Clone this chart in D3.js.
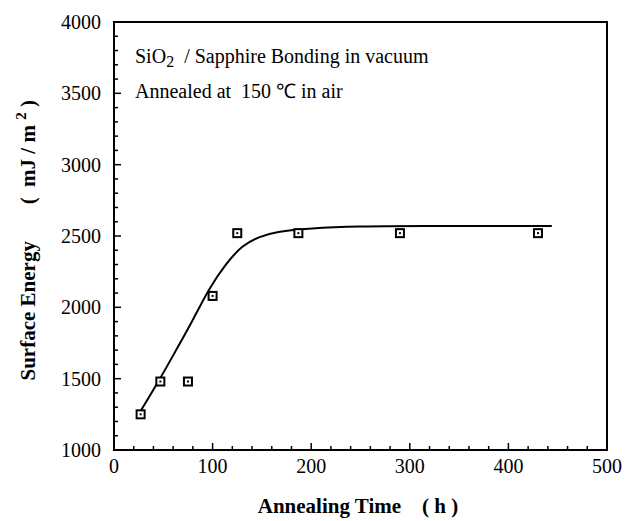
<!DOCTYPE html>
<html>
<meta charset="utf-8">
<script src="https://d3js.org/d3.v7.min.js"></script>
<style>
  body { margin: 0; background: #fff; }
  text { font-family: "Liberation Serif", "Times New Roman", serif; fill: #000; white-space: pre; }
</style>
<body>
<div id="my_dataviz"></div>
<script>

// measured points (annealing time in h, surface energy in mJ/m2)
var hours  = [27, 47, 75, 100, 125, 187, 290, 430];
var energy = [1250, 1480, 1480, 2080, 2520, 2520, 2520, 2520];

// fitted curve
var fitHours  = [25, 46, 63, 80, 97, 114, 130, 147, 164, 198, 250, 300, 444];
var fitEnergy = [1250, 1490, 1700, 1910, 2140, 2310, 2435, 2495, 2530, 2555, 2568, 2570, 2570];

var xTicks = [0, 100, 200, 300, 400, 500];
var yTicks = [1000, 1500, 2000, 2500, 3000, 3500, 4000];

// set the dimensions and margins of the graph
var margin = {top: 22, right: 30, bottom: 71, left: 114},
    width = 640 - margin.left - margin.right,
    height = 521 - margin.top - margin.bottom;

var svg = d3.select("#my_dataviz")
  .append("svg")
    .attr("width", 640)
    .attr("height", 521)
  .append("g")
    .attr("transform", "translate(" + margin.left + "," + margin.top + ")");

var x = d3.scaleLinear().domain([0, 500]).range([0, width - 3]);
var y = d3.scaleLinear().domain([1000, 4000]).range([height, 0]);

// minor ticks (inward)
svg.append("g")
  .selectAll("line")
  .data(d3.range(20, 500, 20))
  .enter().append("line")
    .attr("x1", function(d) { return x(d); })
    .attr("x2", function(d) { return x(d); })
    .attr("y1", height)
    .attr("y2", function(d) { return d % 100 === 0 ? height - 7 : height - 4; })
    .attr("stroke", "#000").attr("stroke-width", 1.5);

svg.append("g")
  .selectAll("line")
  .data(d3.range(1100, 4000, 100))
  .enter().append("line")
    .attr("y1", function(d) { return y(d); })
    .attr("y2", function(d) { return y(d); })
    .attr("x1", 0)
    .attr("x2", function(d) { return d % 500 === 0 ? 7 : 4; })
    .attr("stroke", "#000").attr("stroke-width", 1.5);

// frame
svg.append("rect")
  .attr("x", 0).attr("y", 0)
  .attr("width", x(500)).attr("height", height)
  .attr("fill", "none")
  .attr("stroke", "#000")
  .attr("stroke-width", 2);

// tick labels
svg.append("g")
  .selectAll("text")
  .data(xTicks)
  .enter().append("text")
    .attr("x", function(d) { return x(d); })
    .attr("y", height + 23)
    .attr("text-anchor", "middle")
    .style("font-size", "20px")
    .text(function(d) { return d; });

svg.append("g")
  .selectAll("text")
  .data(yTicks)
  .enter().append("text")
    .attr("x", -13)
    .attr("y", function(d) { return y(d) + 7; })
    .attr("text-anchor", "end")
    .style("font-size", "20px")
    .text(function(d) { return d; });

// fitted curve
var pts = fitHours.map(function(h, i) { return [h, fitEnergy[i]]; });
svg.append("path")
  .datum(pts)
  .attr("fill", "none")
  .attr("stroke", "#000")
  .attr("stroke-width", 2)
  .attr("d", d3.line()
    .x(function(d) { return x(d[0]); })
    .y(function(d) { return y(d[1]); })
    .curve(d3.curveBasis));

// markers: hollow squares with a dot
var pnts = svg.append("g")
  .selectAll("g")
  .data(hours.map(function(h, i) { return [h, energy[i]]; }))
  .enter().append("g")
    .attr("transform", function(d) { return "translate(" + x(d[0]) + "," + y(d[1]) + ")"; });
pnts.append("rect")
  .attr("x", -4).attr("y", -4)
  .attr("width", 8).attr("height", 8)
  .attr("fill", "#fff")
  .attr("stroke", "#000")
  .attr("stroke-width", 2);
pnts.append("rect")
  .attr("x", -1).attr("y", -1)
  .attr("width", 2).attr("height", 2)
  .attr("fill", "#000");

// annotations
var t1 = svg.append("text")
  .attr("x", 21).attr("y", 41)
  .style("font-size", "20px");
t1.append("tspan").text("SiO");
t1.append("tspan").attr("dy", 4).style("font-size", "16px").text("2");
t1.append("tspan").attr("dy", -4).text("  / Sapphire Bonding in vacuum");

svg.append("text")
  .attr("x", 21).attr("y", 76)
  .style("font-size", "20px")
  .text("Annealed at  150 \u2103 in air");

// axis titles
svg.append("text")
  .attr("x", width / 2 - 4)
  .attr("y", height + 63)
  .attr("text-anchor", "middle")
  .style("font-size", "21px")
  .style("font-weight", "bold")
  .text("Annealing Time    ( h )");

var yl = svg.append("text")
  .attr("transform", "translate(" + (-79) + "," + (y(2470)) + ") rotate(-90)")
  .attr("text-anchor", "middle")
  .style("font-size", "21px")
  .style("font-weight", "bold");
yl.append("tspan").text("Surface Energy       (  mJ / m ");
yl.append("tspan").attr("dy", -9).style("font-size", "15px").text("2");
yl.append("tspan").attr("dy", 9).text(" )");

</script>
</body>
</html>
